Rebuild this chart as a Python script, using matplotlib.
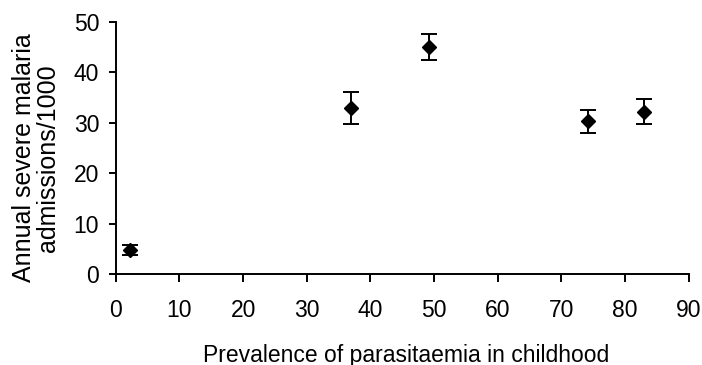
import matplotlib
matplotlib.use("Agg")
import matplotlib.pyplot as plt

plt.rcParams['font.family'] = ['Liberation Sans', 'DejaVu Sans']

prevalence = [2.2, 36.9, 49.2, 74.2, 83.0]
admissions = [4.8, 32.9, 45.0, 30.3, 32.2]
error = [1.0, 3.1, 2.6, 2.3, 2.4]

x_ticks = [0, 10, 20, 30, 40, 50, 60, 70, 80, 90]
y_ticks = [0, 10, 20, 30, 40, 50]

fig = plt.figure(figsize=(7.02, 3.65), dpi=100)
ax = fig.add_axes([0.165, 0.249, 0.816, 0.6915])

ax.errorbar(prevalence, admissions, yerr=error, fmt='D', color='black',
            markersize=7, elinewidth=1.4, capsize=5.5, capthick=1.4)

ax.set_xlim(0, 90)
ax.set_ylim(0, 50)
ax.set_xticks(x_ticks)
ax.set_yticks(y_ticks)

for side in ('top', 'right'):
    ax.spines[side].set_visible(False)
for side in ('left', 'bottom'):
    ax.spines[side].set_linewidth(1.4)
    ax.spines[side].set_color('black')

ax.tick_params(axis='y', direction='out', length=5, width=1.4, labelsize=16.5, pad=7)
ax.tick_params(axis='x', direction='out', length=6, width=1.4, labelsize=16.5, pad=12)

ax.set_xlabel('Prevalence of parasitaemia in childhood', fontsize=16.5)
ax.xaxis.set_label_coords(0.507, -0.275)
ax.set_ylabel('Annual severe malaria\nadmissions/1000', fontsize=18,
              linespacing=1.0, va='center')
ax.yaxis.set_label_coords(-0.14, 0.46)

fig.savefig('out.png', dpi=100)
